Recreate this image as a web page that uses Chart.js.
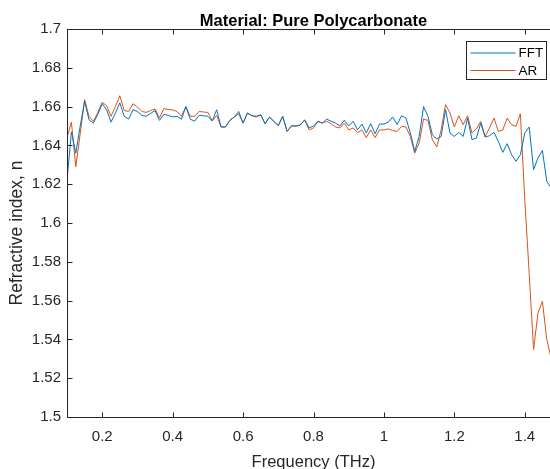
<!DOCTYPE html>
<html>
<head>
<meta charset="utf-8">
<script src="https://cdn.jsdelivr.net/npm/chart.js@4.4.1/dist/chart.umd.min.js"></script>
<style>
  html,body{margin:0;padding:0;background:#fff;overflow:hidden;}
  #wrap{width:560px;height:469px;position:relative;}
</style>
</head>
<body>
<div id="wrap"><canvas id="chart"></canvas></div>
<script>
/* frequency axis (THz) */
const freq = [
  0.1, 0.1125, 0.125, 0.1375, 0.15, 0.1625, 0.175, 0.1875,
  0.2, 0.2125, 0.225, 0.2375, 0.25, 0.2625, 0.275, 0.2875,
  0.3, 0.3125, 0.325, 0.3375, 0.35, 0.3625, 0.375, 0.3875,
  0.4, 0.4125, 0.425, 0.4375, 0.45, 0.4625, 0.475, 0.4875,
  0.5, 0.5125, 0.525, 0.5375, 0.55, 0.5625, 0.575, 0.5875,
  0.6, 0.6125, 0.625, 0.6375, 0.65, 0.6625, 0.675, 0.6875,
  0.7, 0.7125, 0.725, 0.7375, 0.75, 0.7625, 0.775, 0.7875,
  0.8, 0.8125, 0.825, 0.8375, 0.85, 0.8625, 0.875, 0.8875,
  0.9, 0.9125, 0.925, 0.9375, 0.95, 0.9625, 0.975, 0.9875,
  1.0, 1.0125, 1.025, 1.0375, 1.05, 1.0625, 1.075, 1.0875,
  1.1, 1.1125, 1.125, 1.1375, 1.15, 1.1625, 1.175, 1.1875,
  1.2, 1.2125, 1.225, 1.2375, 1.25, 1.2625, 1.275, 1.2875,
  1.3, 1.3125, 1.325, 1.3375, 1.35, 1.3625, 1.375, 1.3875,
  1.4, 1.4125, 1.425, 1.4375, 1.45, 1.4625, 1.475
];

/* refractive index, FFT method */
const nFFT = [
  1.622, 1.647, 1.636, 1.650, 1.6627, 1.6532, 1.6515, 1.656, 1.6615, 1.6584,
  1.652, 1.6567, 1.6619, 1.655, 1.6536, 1.6584, 1.6575, 1.6555, 1.655, 1.6565,
  1.658, 1.6529, 1.656, 1.6555, 1.6547, 1.655, 1.6535, 1.660, 1.6535, 1.6525,
  1.6555, 1.6553, 1.655, 1.6526, 1.6584, 1.6495, 1.6495, 1.6529, 1.6546, 1.6575,
  1.6515, 1.6567, 1.6553, 1.655, 1.6558, 1.6512, 1.6546, 1.6524, 1.6502, 1.655,
  1.6472, 1.6502, 1.650, 1.6505, 1.6532, 1.649, 1.650, 1.6524, 1.6515, 1.6536,
  1.6524, 1.6515, 1.650, 1.653, 1.650, 1.6524, 1.648, 1.651, 1.6465, 1.6512,
  1.646, 1.651, 1.651, 1.652, 1.6546, 1.6507, 1.6553, 1.6541, 1.6464, 1.6369,
  1.6446, 1.660, 1.655, 1.6455, 1.6433, 1.6446, 1.6584, 1.6464, 1.6446, 1.6467,
  1.6446, 1.6541, 1.643, 1.6438, 1.6515, 1.6443, 1.645, 1.6467, 1.642, 1.6364,
  1.6409, 1.6352, 1.6318, 1.6352, 1.6464, 1.6495, 1.6275, 1.6335, 1.6374, 1.6215,
  1.618
];

/* refractive index, AR method */
const nAR = [
  1.644, 1.652, 1.629, 1.646, 1.6636, 1.655, 1.6524, 1.657, 1.6622, 1.6605,
  1.655, 1.660, 1.6656, 1.658, 1.6575, 1.6615, 1.6598, 1.6575, 1.657, 1.658,
  1.6588, 1.6541, 1.659, 1.6585, 1.6583, 1.6575, 1.655, 1.660, 1.655, 1.655,
  1.6575, 1.6572, 1.657, 1.6526, 1.6555, 1.6495, 1.6495, 1.6529, 1.6546, 1.6563,
  1.6515, 1.6567, 1.6553, 1.6546, 1.6558, 1.6512, 1.6546, 1.6524, 1.6502, 1.655,
  1.6472, 1.650, 1.650, 1.6505, 1.653, 1.648, 1.649, 1.6524, 1.6515, 1.6524,
  1.6512, 1.6495, 1.649, 1.6515, 1.648, 1.649, 1.6465, 1.648, 1.644, 1.648,
  1.644, 1.648, 1.648, 1.6485, 1.6477, 1.6472, 1.6498, 1.6495, 1.6446, 1.636,
  1.6412, 1.6536, 1.6529, 1.643, 1.6392, 1.648, 1.661, 1.6567, 1.6495, 1.6553,
  1.6507, 1.6553, 1.6464, 1.6485, 1.6524, 1.6446, 1.649, 1.6541, 1.6472, 1.648,
  1.6541, 1.6507, 1.6498, 1.6563, 1.612, 1.574, 1.5348, 1.5536, 1.5596, 1.540,
  1.530
];

const xTicks = [0.2, 0.4, 0.6, 0.8, 1, 1.2, 1.4];
const yTicks = [1.5, 1.52, 1.54, 1.56, 1.58, 1.6, 1.62, 1.64, 1.66, 1.68, 1.7];

const FONT = "'Liberation Sans', Arial, Helvetica, sans-serif";
const AXIS = "#262626";

function pts(ys){
  return freq.map((f,i)=>({x:f,y:ys[i]}));
}

/* matlab-like box, inner ticks, title, labels and legend */
const frame = {
  id:"frame",
  afterDraw(chart){
    const {ctx, chartArea:a, scales:{x,y}} = chart;
    const L=Math.round(a.left)+0.5, R=Math.round(a.right)-0.5;
    const T=Math.round(a.top)+0.5, B=Math.round(a.bottom)+0.5;
    ctx.save();
    ctx.strokeStyle=AXIS;
    ctx.lineWidth=1;
    ctx.strokeRect(L,T,R-L,B-T);

    ctx.beginPath();
    xTicks.forEach(v=>{
      const px=Math.round(x.getPixelForValue(v))+0.5;
      ctx.moveTo(px,B); ctx.lineTo(px,B-5);
      ctx.moveTo(px,T); ctx.lineTo(px,T+5);
    });
    yTicks.forEach(v=>{
      const py=Math.round(y.getPixelForValue(v))+0.5;
      ctx.moveTo(L,py); ctx.lineTo(L+5,py);
      ctx.moveTo(R,py); ctx.lineTo(R-5,py);
    });
    ctx.stroke();

    // title
    ctx.fillStyle="#000";
    ctx.font=`bold 16.5px ${FONT}`;
    ctx.textAlign="center";
    ctx.textBaseline="alphabetic";
    ctx.fillText("Material: Pure Polycarbonate",(a.left+a.right)/2,26);

    // axis labels
    ctx.fillStyle=AXIS;
    ctx.font=`16.5px ${FONT}`;
    ctx.fillText("Frequency (THz)",(a.left+a.right)/2,467);
    ctx.save();
    ctx.font=`17.5px ${FONT}`;
    ctx.translate(22,233);
    ctx.rotate(-Math.PI/2);
    ctx.fillText("Refractive index, n",0,0);
    ctx.restore();

    // legend
    const bx=466.5, by=41.5, bw=80, bh=38;
    ctx.fillStyle="#fff";
    ctx.fillRect(bx,by,bw,bh);
    ctx.strokeStyle=AXIS;
    ctx.strokeRect(bx,by,bw,bh);
    ctx.font=`13.5px ${FONT}`;
    ctx.textAlign="left";
    ctx.textBaseline="middle";
    chart.data.datasets.forEach((ds,i)=>{
      const ly=by+11.5+i*17.5;
      ctx.strokeStyle=ds.borderColor;
      ctx.lineWidth=1;
      ctx.beginPath();
      ctx.moveTo(bx+4,ly); ctx.lineTo(bx+49,ly);
      ctx.stroke();
      ctx.fillStyle="#000";
      ctx.fillText(ds.label,bx+52,ly+0.5);
    });
    ctx.restore();
  }
};

new Chart(document.getElementById("chart"),{
  type:"line",
  data:{
    datasets:[
      {label:"FFT",data:pts(nFFT),borderColor:"#0072BD",borderWidth:1,pointRadius:0,tension:0,fill:false},
      {label:"AR",data:pts(nAR),borderColor:"#D95319",borderWidth:1,pointRadius:0,tension:0,fill:false}
    ]
  },
  options:{
    responsive:true,
    maintainAspectRatio:false,
    animation:false,
    layout:{padding:{top:29,right:0,bottom:0,left:0}},
    plugins:{legend:{display:false},title:{display:false},tooltip:{enabled:false}},
    scales:{
      x:{
        type:"linear",min:0.1,max:1.5,
        afterBuildTicks:s=>{s.ticks=xTicks.map(v=>({value:v}));},
        afterFit:s=>{s.height=52;},
        grid:{display:false,drawTicks:false},
        border:{display:false},
        ticks:{font:{family:FONT,size:15},color:AXIS,padding:11,maxRotation:0,autoSkip:false,
          callback:v=>String(v)}
      },
      y:{
        type:"linear",min:1.5,max:1.7,
        afterBuildTicks:s=>{s.ticks=yTicks.map(v=>({value:v}));},
        afterFit:s=>{s.width=67;},
        grid:{display:false,drawTicks:false},
        border:{display:false},
        ticks:{font:{family:FONT,size:15},color:AXIS,padding:6,autoSkip:false,
          callback:v=>String(v)}
      }
    }
  },
  plugins:[frame]
});
</script>
</body>
</html>
